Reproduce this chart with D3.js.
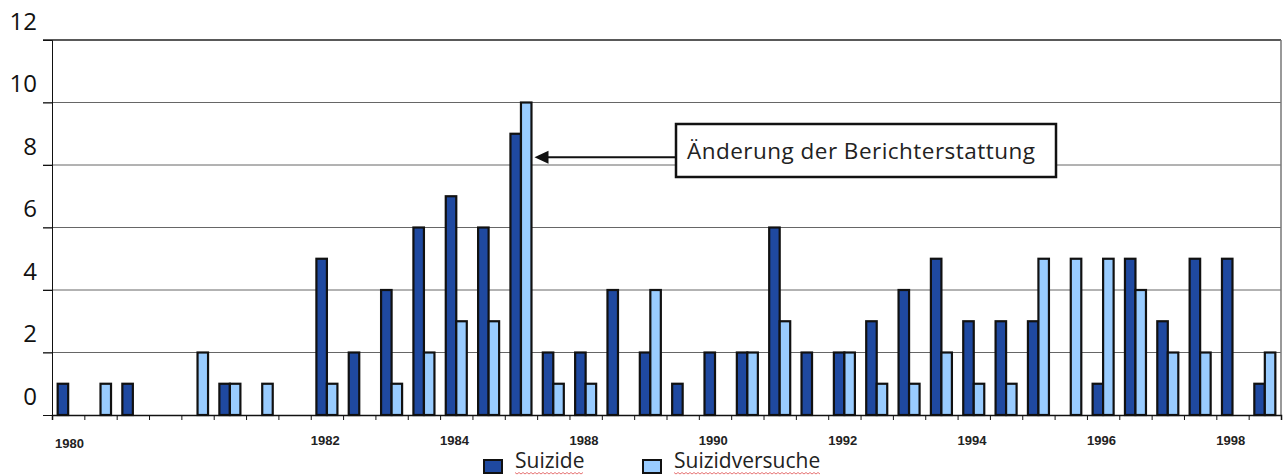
<!DOCTYPE html>
<html>
<head>
<meta charset="utf-8">
<script src="https://cdn.jsdelivr.net/npm/d3@7"></script>
<style>
  body { margin: 0; background: #fff; }
</style>
</head>
<body>
<div id="chart"></div>
<script>
// half-year periods 1980..1998
const years = [1980, 1981, 1982, 1983, 1984, 1985, 1986, 1987, 1988, 1989,
               1990, 1991, 1992, 1993, 1994, 1995, 1996, 1997, 1998];
const periods = years.flatMap(y => [y + "/1", y + "/2"]);

const series = ["Suizide", "Suizidversuche"];
const suizide = [1, 0, 1, 0, 0, 1, 0, 0, 5, 2, 4, 6, 7, 6, 9, 2, 2, 4, 2, 1,
                 2, 2, 6, 2, 2, 3, 4, 5, 3, 3, 3, 0, 1, 5, 3, 5, 5, 1];
const versuche = [0, 1, 0, 0, 2, 1, 1, 0, 1, 0, 1, 2, 3, 3, 10, 1, 1, 0, 4, 0,
                  0, 2, 3, 0, 2, 1, 1, 2, 1, 1, 5, 5, 5, 4, 2, 2, 0, 2];

// tick labels as they stand in the original (index = period slot)
const tickLabels = ["1980", "1982", "1984", "1988", "1990", "1992", "1994", "1996", "1998"];
const tickSlots = [0, 8, 12, 16, 20, 24, 28, 32, 36];
const yTicks = [0, 2, 4, 6, 8, 10, 12];

const note = "Änderung der Berichterstattung";
const colors = ["#1f49a0", "#99ccff"];

const W = 1285, H = 475;
const mLeft = 52, mRight = 1281, mTop = 40, mBottom = 415;

const svg = d3.select("#chart").append("svg")
  .attr("width", W).attr("height", H)
  .style("font-family", "'Open Sans', sans-serif");

const x0 = d3.scaleBand().domain(periods).range([mLeft, mRight])
  .paddingInner(0.35).paddingOuter(0.175);
const x1 = d3.scaleBand().domain(series).range([0, x0.bandwidth()]);
const xi = d3.scaleLinear().domain([0, periods.length]).range([mLeft, mRight]);
const y = d3.scaleLinear().domain([0, 12]).range([mBottom, mTop]);

// gridlines
svg.append("g").selectAll("line").data(yTicks.filter(d => d > 0)).join("line")
  .attr("x1", mLeft - 9).attr("x2", mRight)
  .attr("y1", d => y(d)).attr("y2", d => y(d))
  .attr("stroke", d => d === 12 ? "#222" : "#666")
  .attr("stroke-width", d => d === 12 ? 1.5 : 1);

svg.append("line")
  .attr("x1", mRight).attr("x2", mRight).attr("y1", mTop).attr("y2", mBottom)
  .attr("stroke", "#777").attr("stroke-width", 1.5);

// left axis
svg.append("g").attr("transform", `translate(${mLeft},0)`)
  .call(d3.axisLeft(y).tickValues(yTicks).tickSize(9).tickFormat(""))
  .call(g => g.selectAll("line,path").attr("stroke", "#111"));

// y labels sit above their gridlines, as in the source
svg.append("g").selectAll("text").data(yTicks).join("text")
  .attr("x", 37).attr("y", d => y(d) - 19)
  .attr("dy", "0.36em")
  .attr("text-anchor", "end")
  .attr("font-size", 24)
  .attr("fill", "#111")
  .text(d => d);

// bars
const rows = periods.map((p, i) => ({ p, vals: [suizide[i], versuche[i]] }));
svg.append("g").selectAll("g").data(rows).join("g")
  .attr("transform", d => `translate(${x0(d.p)},0)`)
  .selectAll("rect")
  .data(d => d.vals.map((v, k) => ({ k, v })).filter(e => e.v > 0))
  .join("rect")
  .attr("x", d => x1(series[d.k]))
  .attr("width", x1.bandwidth())
  .attr("y", d => y(d.v))
  .attr("height", d => y(0) - y(d.v))
  .attr("fill", d => colors[d.k])
  .attr("stroke", "#111")
  .attr("stroke-width", 2.2);

// bottom axis
svg.append("g").attr("transform", `translate(0,${mBottom})`)
  .call(d3.axisBottom(xi).tickValues(d3.range(periods.length + 1)).tickSize(5).tickFormat(""))
  .call(g => g.select("path").attr("stroke", "#111").attr("stroke-width", 1.5))
  .call(g => g.selectAll("line").attr("stroke", "#111"));

svg.append("g").selectAll("text").data(tickLabels).join("text")
  .attr("x", (d, i) => xi(tickSlots[i]) + (i === 0 ? 3 : 0))
  .attr("y", (d, i) => i === 0 ? 448 : 445)
  .attr("font-family", "'Liberation Sans', Arial, sans-serif")
  .attr("font-weight", "bold")
  .attr("font-size", 13)
  .attr("fill", "#222")
  .text(d => d);

// annotation
const peak = periods[14];
const tipX = x0(peak) + x0.bandwidth() + 3;
const tipY = y(8.25);
const boxX = 676, boxY = 124, boxW = 380, boxH = 53;

svg.append("line")
  .attr("x1", boxX).attr("x2", tipX + 12)
  .attr("y1", tipY).attr("y2", tipY)
  .attr("stroke", "#111").attr("stroke-width", 2);
svg.append("path")
  .attr("d", `M${tipX},${tipY} l14,-6.5 l0,13 z`)
  .attr("fill", "#111");

svg.append("rect")
  .attr("x", boxX).attr("y", boxY).attr("width", boxW).attr("height", boxH)
  .attr("fill", "#fff").attr("stroke", "#111").attr("stroke-width", 2.5);
svg.append("text")
  .attr("x", boxX + 11).attr("y", boxY + 35)
  .attr("font-size", 22.5)
  .attr("textLength", 348)
  .attr("lengthAdjust", "spacing")
  .attr("fill", "#222")
  .text(note);

// legend
const legX = [484, 643];
const leg = svg.append("g").selectAll("g").data(series).join("g")
  .attr("transform", (d, i) => `translate(${legX[i]},460)`);
leg.append("rect")
  .attr("width", 18).attr("height", 13)
  .attr("fill", (d, i) => colors[i])
  .attr("stroke", "#111").attr("stroke-width", 2);
leg.append("text")
  .attr("x", 31).attr("y", 8)
  .attr("font-size", 21)
  .attr("fill", "#222")
  .text(d => d);
// spell-check squiggle under legend words
leg.each(function () {
  const g = d3.select(this);
  const w = g.select("text").node().getComputedTextLength();
  const pts = d3.range(0, w, 2).map((t, j) => [31 + t, 13 + (j % 2 ? 1 : -0.5)]);
  g.append("path").attr("d", d3.line()(pts))
    .attr("fill", "none").attr("stroke", "#e05050").attr("stroke-width", 0.8);
});
</script>
</body>
</html>
